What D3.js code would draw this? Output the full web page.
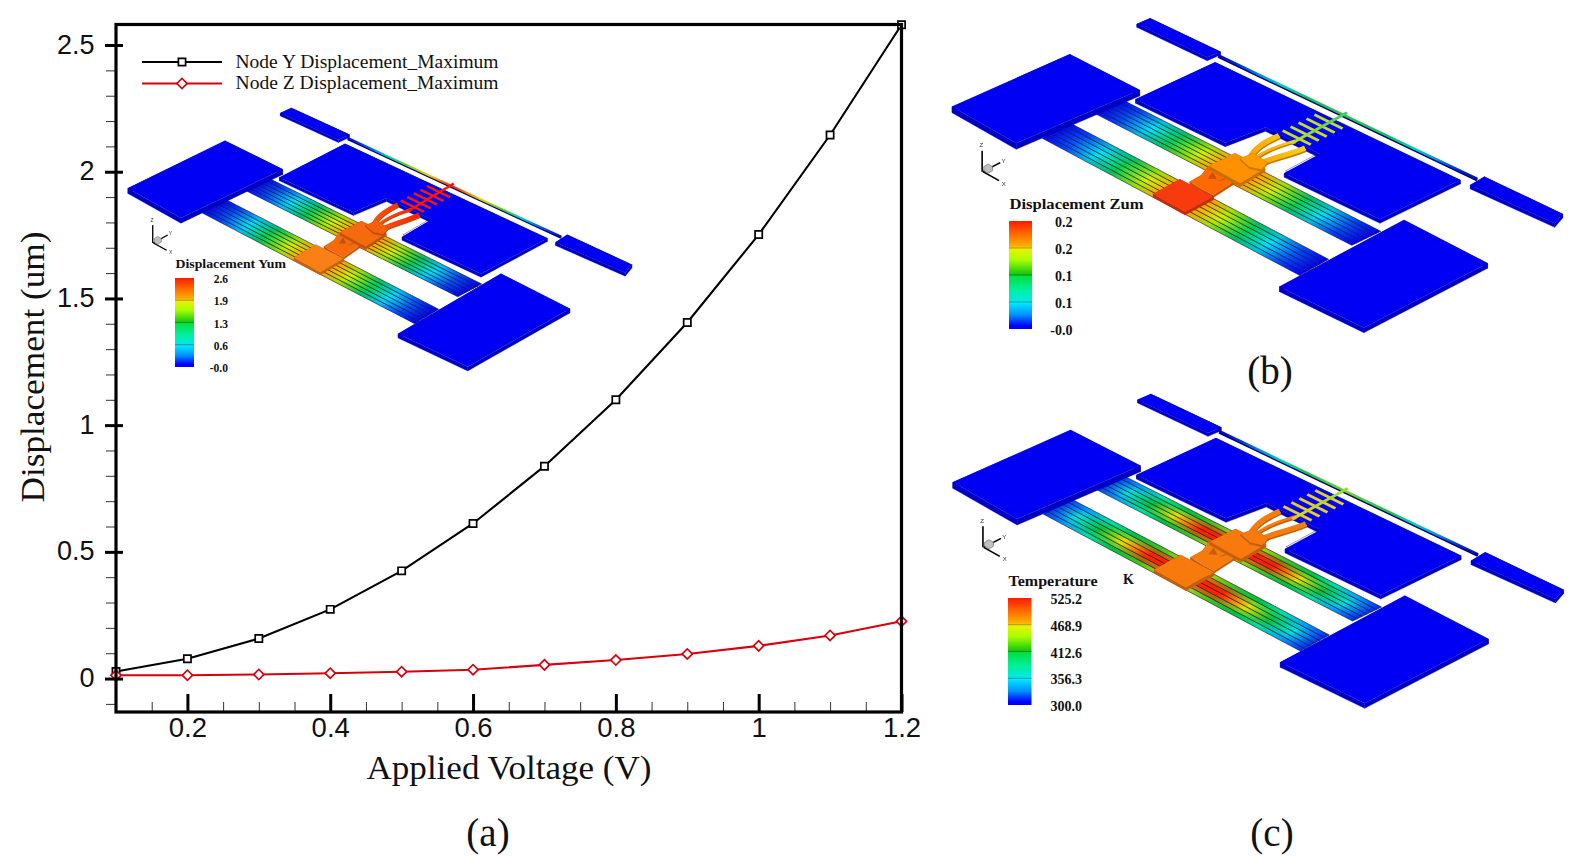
<!DOCTYPE html>
<html>
<head>
<meta charset="utf-8">
<title>Displacement vs applied voltage</title>
<script src="https://cdn.jsdelivr.net/npm/d3@7"></script>
<style>
  html, body { margin: 0; padding: 0; background: #fff; }
  svg { display: block; }
</style>
</head>
<body>
<div id="chart"></div>
<script>
// values
var voltage = [0.1, 0.2, 0.3, 0.4, 0.5, 0.6, 0.7, 0.8, 0.9, 1.0, 1.1, 1.2];
var nodeY = [0.028, 0.078, 0.158, 0.273, 0.425, 0.612, 0.838, 1.10, 1.405, 1.752, 2.145, 2.58];
var nodeZ = [0.013, 0.013, 0.016, 0.021, 0.027, 0.035, 0.054, 0.073, 0.097, 0.129, 0.17, 0.226];
var seriesNames = ["Node Y Displacement_Maximum", "Node Z Displacement_Maximum"];
var xTicks = [0.2, 0.4, 0.6, 0.8, 1, 1.2];
var yTicks = [0, 0.5, 1, 1.5, 2, 2.5];

// colour bar labels of the three contour plots
var barLabelsA = ["2.6", "1.9", "1.3", "0.6", "-0.0"];
var barLabelsB = ["0.2", "0.2", "0.1", "0.1", "-0.0"];
var barLabelsC = ["525.2", "468.9", "412.6", "356.3", "300.0"];

var svg = d3.select("#chart")
    .append("svg")
        .attr("width", 1590)
        .attr("height", 863);

var defs = svg.append("defs");
defs.append("filter").attr("id", "soft")
    .attr("x", "-5%").attr("y", "-5%").attr("width", "110%").attr("height", "110%")
    .append("feGaussianBlur").attr("stdDeviation", 0.45);

var x = d3.scaleLinear().domain([0.1, 1.2]).range([116, 901.5]);
var y = d3.scaleLinear().domain([-0.132, 2.581]).range([712, 24.5]);

// ------- the device drawing, same geometry for all three panels -------
var pad1 = [[5,290],[298,133],[472,240],[165,400]];
var pad2 = [[462,268],[660,157],[1270,510],[1070,628],[832,490],[921,432],[785,352],[685,398]];
var pad3 = [[820,830],[1130,630],[1338,760],[1030,953]];
var small1 = [[465,42],[498,25],[673,125],[640,142]];
var small2 = [[1295,525],[1330,500],[1525,612],[1505,640]];
var wireEnds = [[668,136],[1312,506]];
var stackA = {from: [[360,310],[430,270]], to: [[1000,706],[1072,664]]};
var stackB = {from: [[230,385],[300,340]], to: [[870,796],[942,748]]};
var shuttleA = [[645,468],[709,430],[784,475],[722,520]];
var shuttleB = [[506,552],[572,508],[655,560],[585,605]];
var linkShape = [[597,515],[626,495],[643,468],[713,510],[655,555],[631,540]];
var linkHoles = [[[641,506],[654,486],[664,507]], [[665,513],[693,502],[680,511]]];
var armRoot = [[722,445],[755,430],[790,458],[775,478],[745,470]];
var armPaths = [
  {d: "M748,440 C762,410 785,395 819,376", w: 15},
  {d: "M760,445 C780,425 805,410 860,392", w: 8},
  {d: "M765,465 C790,445 830,440 884,414", w: 15}
];
var beamStops = [0, 0.08, 0.17, 0.26, 0.36, 0.44, 0.5];

var panels = [
  {id: "a", matrix: [0.3316, -0.0101, 0, 0.2847, 126.2, 105.8],
   inner: ["#0000ff", "#0050ff", "#00e0ff", "#00d050", "#d0f000", "#ffa000", "#ff7000"],
   outer: ["#0000ff", "#0040ff", "#00c0ff", "#00c060", "#a0e000", "#ffa000", "#ff7000"],
   peakA: "#ff7000", peakB: "#ff8000", shuttleA: "#f56a10", shuttleB: "#f98018",
   link: "#f56a10", arm: ["#f5600f", "#ff1a00"], comb: "#ff1500", shaft: "#ff1500",
   wire: ["#0000e0", "#0060ff", "#00d0c0", "#50d020", "#e8d000", "#ff2000"], wireAt: [0, 0.1, 0.18, 0.27, 0.38, 0.49]},
  {id: "b", matrix: [0.4018, 0, 0, 0.3333, 950, 10],
   inner: ["#0000ff", "#0050ff", "#00e0ff", "#00d050", "#d0f000", "#ffa000", "#ff7000"],
   outer: ["#0000ff", "#0040ff", "#00c0e0", "#00c060", "#a0e000", "#ffa000", "#ff7000"],
   peakA: "#ff8000", peakB: "#ff3000", shuttleA: "#ff9000", shuttleB: "#f83a10",
   link: "#ff6a00", arm: ["#ff9a00", "#f2d820"], comb: "#c4e020", shaft: "#30d060",
   wire: ["#0000c0", "#0030e0", "#0090f0", "#00d0c0", "#10c060", "#30c050"], wireAt: [0, 0.08, 0.16, 0.24, 0.34, 0.49]},
  {id: "c", matrix: [0.4018, 0, 0, 0.3333, 950.8, 385.7],
   inner: ["#0030ff", "#00e0e0", "#00c040", "#e0e000", "#ff2000", "#ff2000", "#ff6000"],
   outer: ["#0030ff", "#00a0ff", "#00e0a0", "#00c040", "#40c020", "#a0d010", "#d0d000"],
   peakA: "#ff6000", peakB: "#ff6000", shuttleA: "#f87a10", shuttleB: "#f87a10",
   link: "#f87a10", arm: ["#f87a10", "#f08010"], comb: "#e8d020", shaft: "#90e030",
   wire: ["#0000c0", "#0030e0", "#0090f0", "#00d0c0", "#20c050", "#70d030"], wireAt: [0, 0.08, 0.16, 0.24, 0.34, 0.49]}
];

function addGradient(id, a, b, stops) {
    var g = defs.append("linearGradient").attr("id", id)
        .attr("gradientUnits", "userSpaceOnUse")
        .attr("x1", a[0]).attr("y1", a[1]).attr("x2", b[0]).attr("y2", b[1]);
    stops.forEach(function(s) {
        g.append("stop").attr("offset", s[0]).attr("stop-color", s[1]);
    });
    return "url(#" + id + ")";
}

function mirrored(offsets, colors) {
    var out = offsets.map(function(o, i) { return [o, colors[i]]; });
    for (var i = offsets.length - 2; i >= 0; i--) {
        out.push([1 - offsets[i], colors[i]]);
    }
    return out;
}

function lerp(a, b, t) {
    return [a[0] + (b[0] - a[0]) * t, a[1] + (b[1] - a[1]) * t];
}

function polyPath(p) {
    return "M" + p.map(function(d) { return d[0] + "," + d[1]; }).join("L") + "Z";
}

// top face plus its side faces pushed down by t
function block(g, p, t, top, side) {
    p.forEach(function(d, i) {
        var e = p[(i + 1) % p.length];
        g.append("path")
            .attr("d", polyPath([d, e, [e[0], e[1] + t], [d[0], d[1] + t]]))
            .attr("fill", side).attr("stroke", side).attr("stroke-width", 1);
    });
    g.append("path").attr("d", polyPath(p)).attr("fill", top);
}

function pad(g, p, t) {
    block(g, p, t, "#0606f4", "#0000c0");
    var c = d3.polygonCentroid(p);
    var inset = p.map(function(d) { return lerp(c, d, 0.93); });
    g.append("path").attr("d", polyPath(inset))
        .attr("fill", "none").attr("stroke", "#0000b8").attr("stroke-opacity", 0.7)
        .attr("stroke-width", 0.6).attr("vector-effect", "non-scaling-stroke");
}

function drawStack(g, stack, panel, key) {
    var n = 6;
    var peak = key == "A" ? panel.peakA : panel.peakB;
    for (var i = 0; i < n; i++) {
        var w = Math.abs(i - (n - 1) / 2) / ((n - 1) / 2);
        var mix = w < 0.3 ? 0 : (w < 0.7 ? 0.45 : 1);
        var colors = panel.inner.map(function(c, j) {
            var inner = j == panel.inner.length - 1 ? peak : c;
            return d3.interpolateRgb(inner, panel.outer[j])(mix);
        });
        var a0 = lerp(stack.from[0], stack.from[1], i / n), a1 = lerp(stack.from[0], stack.from[1], (i + 1) / n);
        var b0 = lerp(stack.to[0], stack.to[1], i / n), b1 = lerp(stack.to[0], stack.to[1], (i + 1) / n);
        var fill = addGradient("beam" + panel.id + key + i, a0, b0, mirrored(beamStops, colors));
        g.append("path").attr("d", polyPath([a0, b0, b1, a1]))
            .attr("fill", fill)
            .attr("stroke", "#101010").attr("stroke-width", 0.6)
            .attr("vector-effect", "non-scaling-stroke");
    }
}

function drawDevice(panel) {
    var outer = svg.append("g").attr("class", "device").attr("filter", "url(#soft)");
    var g = outer.append("g").attr("transform", "matrix(" + panel.matrix.join(",") + ")");

    drawStack(g, stackA, panel, "A");
    drawStack(g, stackB, panel, "B");

    // long thin wire between the two small pads
    var stops = panel.wireAt.map(function(o, i) { return [o, panel.wire[i]]; });
    for (var k = panel.wireAt.length - 2; k >= 0; k--) stops.push([1 - panel.wireAt[k], panel.wire[k]]);
    var wireFill = addGradient("wire" + panel.id, wireEnds[0], wireEnds[1], stops);
    g.append("line")
        .attr("x1", wireEnds[0][0]).attr("y1", wireEnds[0][1] + 4)
        .attr("x2", wireEnds[1][0]).attr("y2", wireEnds[1][1] + 4)
        .attr("stroke", "#00006e").attr("stroke-width", 8);
    g.append("line")
        .attr("x1", wireEnds[0][0]).attr("y1", wireEnds[0][1])
        .attr("x2", wireEnds[1][0]).attr("y2", wireEnds[1][1])
        .attr("stroke", wireFill).attr("stroke-width", 7);

    pad(g, small1, 10);
    pad(g, small2, 12);
    pad(g, pad2, 12);
    pad(g, pad3, 15);
    pad(g, pad1, 18);

    var dark = function(c) { return d3.color(c).darker(0.7).formatHex(); };

    // links between the two shuttles, with their small openings
    block(g, linkShape, 8, panel.link, dark(panel.link));
    linkHoles.forEach(function(h) {
        g.append("path").attr("d", polyPath(h)).attr("fill", dark(panel.link));
    });
    block(g, shuttleB, 10, panel.shuttleB, dark(panel.shuttleB));
    block(g, shuttleA, 10, panel.shuttleA, dark(panel.shuttleA));

    // arms running from the shuttle to the comb
    var armFill = addGradient("arm" + panel.id, [750, 470], [880, 390],
        [[0, panel.arm[0]], [1, panel.arm[1]]]);
    armPaths.forEach(function(a) {
        g.append("path").attr("d", a.d).attr("fill", "none").attr("stroke", dark(panel.arm[0]))
            .attr("stroke-width", a.w).attr("transform", "translate(0,5)");
        g.append("path").attr("d", a.d).attr("fill", "none").attr("stroke", armFill)
            .attr("stroke-width", a.w);
    });
    block(g, armRoot, 6, panel.arm[0], dark(panel.arm[0]));

    // comb: teeth on a shaft that joins the wire
    var teeth = d3.range(5).map(function(i) { return lerp([942, 335], [863, 383], i / 4); });
    teeth.forEach(function(c) {
        g.append("line")
            .attr("x1", c[0] - 35).attr("y1", c[1] - 21)
            .attr("x2", c[0] + 35).attr("y2", c[1] + 21)
            .attr("stroke", panel.comb).attr("stroke-width", 8);
    });
    var shaftFill = addGradient("shaft" + panel.id, [988, 308], [850, 400],
        [[0, panel.shaft], [1, panel.comb]]);
    g.append("line").attr("x1", 988).attr("y1", 308).attr("x2", 850).attr("y2", 400)
        .attr("stroke", shaftFill).attr("stroke-width", 8);

    // little axis triad
    var triad = g.append("g").attr("fill", "none").attr("stroke", "#000").attr("stroke-width", 4);
    triad.append("path").attr("d", "M80,485 L80,422");
    triad.append("path").attr("d", "M82,485 L125,458");
    triad.append("path").attr("d", "M82,485 L122,512");
    g.append("path").attr("d", polyPath([[84,470],[95,462],[106,470],[106,482],[95,490],[84,482]]))
        .attr("fill", "#c0c0c0").attr("stroke", "#555").attr("stroke-width", 1.5);

    var m = panel.matrix;
    [["Z", 78, 407], ["Y", 133, 454], ["X", 134, 522]].forEach(function(t) {
        outer.append("text")
            .attr("x", m[0] * t[1] + m[2] * t[2] + m[4])
            .attr("y", m[1] * t[1] + m[3] * t[2] + m[5])
            .attr("text-anchor", "middle").attr("dominant-baseline", "middle")
            .attr("font-family", "Liberation Sans").attr("font-size", panel.id == "a" ? 5 : 6)
            .attr("fill", "#333").text(t[0]);
    });
}

panels.forEach(drawDevice);

// ------- colour bars -------
var barColors = [[0, "#ff1a00"], [0.12, "#ff6a00"], [0.235, "#ffb000"], [0.255, "#eef000"],
                 [0.36, "#a8ff00"], [0.495, "#10c810"], [0.51, "#00e040"], [0.64, "#00f0a0"],
                 [0.745, "#00e8e8"], [0.76, "#00e8ff"], [0.87, "#0090ff"], [0.97, "#0000ff"], [1, "#0000ff"]];

function colorBar(opts) {
    var id = "bar" + opts.id;
    var grad = defs.append("linearGradient").attr("id", id)
        .attr("x1", 0).attr("y1", 0).attr("x2", 0).attr("y2", 1);
    barColors.forEach(function(s) {
        grad.append("stop").attr("offset", s[0]).attr("stop-color", s[1]);
    });

    var g = svg.append("g").attr("class", "colorbar");
    var pos = d3.scalePoint().domain(d3.range(opts.labels.length)).range([opts.top, opts.bottom]);

    g.append("rect")
        .attr("x", opts.left).attr("y", opts.top)
        .attr("width", opts.width).attr("height", opts.bottom - opts.top)
        .attr("fill", "url(#" + id + ")");

    g.selectAll("line.level").data(opts.labels.slice(1, -1))
        .enter().append("line").attr("class", "level")
        .attr("x1", opts.left).attr("x2", opts.left + opts.width)
        .attr("y1", function(d, i) { return pos(i + 1); })
        .attr("y2", function(d, i) { return pos(i + 1); })
        .attr("stroke", "#222").attr("stroke-opacity", 0.55).attr("stroke-width", 0.7);

    g.selectAll("text.lab").data(opts.labels)
        .enter().append("text").attr("class", "lab")
        .attr("x", opts.labelX)
        .attr("y", function(d, i) { return pos(i) + opts.labelShift; })
        .attr("text-anchor", "end").attr("dominant-baseline", "middle")
        .attr("font-family", "Liberation Serif").attr("font-weight", "bold")
        .attr("font-size", opts.font).attr("fill", "#111")
        .text(function(d) { return d; });

    g.append("text")
        .attr("x", opts.left + 0.5).attr("y", opts.titleY)
        .attr("font-family", "Liberation Serif").attr("font-weight", "bold")
        .attr("font-size", opts.titleFont).attr("fill", "#111")
        .attr("textLength", opts.titleLength).attr("lengthAdjust", "spacingAndGlyphs")
        .text(opts.title);
}

colorBar({id: "A", labels: barLabelsA, title: "Displacement Yum", left: 175, width: 19, top: 278, bottom: 367,
          labelX: 228, labelShift: 2.5, titleY: 268, font: 11.5, titleFont: 12.2, titleLength: 110.5});
colorBar({id: "B", labels: barLabelsB, title: "Displacement Zum", left: 1009, width: 23, top: 221, bottom: 329,
          labelX: 1072.5, labelShift: 3, titleY: 209, font: 14, titleFont: 14.7, titleLength: 134});
colorBar({id: "C", labels: barLabelsC, title: "Temperature", left: 1008, width: 23.5, top: 598, bottom: 705,
          labelX: 1082, labelShift: 3, titleY: 585.5, font: 14, titleFont: 14.7, titleLength: 89});

svg.append("text").attr("x", 1123).attr("y", 584)
    .attr("font-family", "Liberation Serif").attr("font-weight", "bold")
    .attr("font-size", 14).attr("fill", "#111").text("K");

// ------- line chart -------
var chart = svg.append("g").attr("class", "chart");
var line = d3.line().x(function(d) { return x(d[0]); }).y(function(d) { return y(d[1]); });
var square = d3.symbol().type(d3.symbolSquare).size(52);

function drawSeries(values, color, markerRotate) {
    var pts = voltage.map(function(v, i) { return [v, values[i]]; });
    chart.append("path").datum(pts)
        .attr("d", line).attr("fill", "none")
        .attr("stroke", color).attr("stroke-width", 2.1);
    chart.selectAll(null).data(pts).enter().append("path")
        .attr("d", square)
        .attr("transform", function(d) {
            return "translate(" + x(d[0]) + "," + y(d[1]) + ") rotate(" + markerRotate + ")";
        })
        .attr("fill", "#fff").attr("stroke", color).attr("stroke-width", 1.7);
}

drawSeries(nodeY, "#000", 0);
drawSeries(nodeZ, "#d8000c", 45);

// minor ticks
var xMinor = d3.range(0.15, 1.2, 0.05);
var yMinor = d3.range(-0.1, 2.55, 0.1);

chart.append("g")
    .attr("transform", "translate(0," + y.range()[0] + ")")
    .call(d3.axisBottom(x).tickValues(xMinor).tickSize(-10).tickFormat(""))
    .call(function(g) { g.select(".domain").remove(); })
    .selectAll("line").attr("stroke", "#333").attr("stroke-width", 1);

chart.append("g")
    .attr("transform", "translate(" + x.range()[0] + ",0)")
    .call(d3.axisLeft(y).tickValues(yMinor).tickSize(10).tickFormat(""))
    .call(function(g) { g.select(".domain").remove(); })
    .selectAll("line").attr("stroke", "#333").attr("stroke-width", 1);

// major ticks and labels
var xAxis = chart.append("g")
    .attr("transform", "translate(0," + y.range()[0] + ")")
    .call(d3.axisBottom(x).tickValues(xTicks).tickSize(-18).tickPadding(0).tickFormat(d3.format("~g")));
xAxis.select(".domain").remove();
xAxis.selectAll("line").attr("stroke", "#000").attr("stroke-width", 3);
xAxis.selectAll("text")
    .attr("y", 0).attr("dy", 0)
    .attr("transform", "translate(0,18)")
    .attr("font-family", "Liberation Sans").attr("font-size", 27.5).attr("fill", "#111")
    .attr("dominant-baseline", "middle");

var yAxis = chart.append("g")
    .attr("transform", "translate(" + x.range()[0] + ",0)")
    .call(d3.axisLeft(y).tickValues(yTicks).tickSize(10).tickPadding(0).tickFormat(d3.format("~g")));
yAxis.select(".domain").remove();
yAxis.selectAll("line").attr("x1", -11).attr("x2", 7).attr("stroke", "#000").attr("stroke-width", 3);
yAxis.selectAll("text")
    .attr("x", -21.5).attr("y", 1).attr("dy", 0)
    .attr("font-family", "Liberation Sans").attr("font-size", 27).attr("fill", "#111")
    .attr("dominant-baseline", "middle");

// frame
chart.append("rect")
    .attr("x", x.range()[0]).attr("y", y.range()[1])
    .attr("width", x.range()[1] - x.range()[0])
    .attr("height", y.range()[0] - y.range()[1])
    .attr("fill", "none").attr("stroke", "#000").attr("stroke-width", 3.2);

// legend
var legendRows = d3.scalePoint().domain(seriesNames).range([62, 83.5]);
var legendColors = d3.scaleOrdinal().domain(seriesNames).range(["#000", "#d8000c"]);
var legend = chart.selectAll("g.legend").data(seriesNames).enter().append("g").attr("class", "legend")
    .attr("transform", function(d) { return "translate(0," + legendRows(d) + ")"; });
legend.append("line")
    .attr("x1", 142).attr("x2", 222)
    .attr("stroke", legendColors).attr("stroke-width", 2.1);
legend.append("path")
    .attr("d", square)
    .attr("transform", function(d, i) { return "translate(182,0) rotate(" + (i * 45) + ")"; })
    .attr("fill", "#fff").attr("stroke", legendColors).attr("stroke-width", 1.7);
legend.append("text")
    .attr("x", 235.5).attr("y", 1.5)
    .attr("dominant-baseline", "middle")
    .attr("font-family", "Liberation Serif").attr("font-size", 18.5).attr("fill", "#111")
    .attr("textLength", 263).attr("lengthAdjust", "spacingAndGlyphs")
    .text(function(d) { return d; });

// axis titles and panel letters
svg.append("text")
    .attr("x", 509).attr("y", 779)
    .attr("text-anchor", "middle")
    .attr("font-family", "Liberation Serif").attr("font-size", 34).attr("fill", "#111")
    .attr("textLength", 285).attr("lengthAdjust", "spacingAndGlyphs")
    .text("Applied Voltage (V)");

svg.append("text")
    .attr("transform", "translate(44,367) rotate(-90)")
    .attr("text-anchor", "middle")
    .attr("font-family", "Liberation Serif").attr("font-size", 34).attr("fill", "#111")
    .attr("textLength", 271).attr("lengthAdjust", "spacingAndGlyphs")
    .text("Displacement (um)");

[["(a)", 488, 846], ["(b)", 1270, 384], ["(c)", 1272, 846]].forEach(function(t) {
    svg.append("text")
        .attr("x", t[1]).attr("y", t[2])
        .attr("text-anchor", "middle")
        .attr("font-family", "Liberation Serif").attr("font-size", 39).attr("fill", "#111")
        .text(t[0]);
});
</script>
</body>
</html>
